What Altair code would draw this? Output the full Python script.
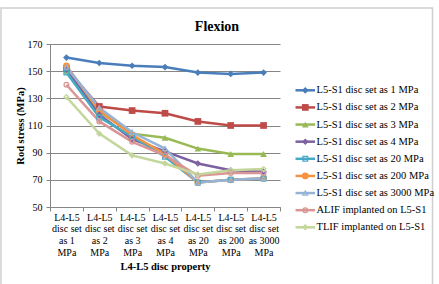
import altair as alt
import pandas as pd

# L4-L5 disc property (x categories)
categories = [
    "L4-L5 disc set as 1 MPa",
    "L4-L5 disc set as 2 MPa",
    "L4-L5 disc set as 3 MPa",
    "L4-L5 disc set as 4 MPa",
    "L4-L5 disc set as 20 MPa",
    "L4-L5 disc set as 200 MPa",
    "L4-L5 disc set as 3000 MPa",
]

series_names = [
    "L5-S1 disc set as 1 MPa",
    "L5-S1 disc set as 2 MPa",
    "L5-S1 disc set as 3 MPa",
    "L5-S1 disc set as 4 MPa",
    "L5-S1 disc set as 20 MPa",
    "L5-S1 disc set as 200 MPa",
    "L5-S1 disc set as 3000 MPa",
    "ALIF implanted on L5-S1",
    "TLIF implanted on L5-S1",
]

# Rod stress (MPa) for each series across the categories
s_1 = [160, 156, 154, 153, 149, 148, 149]
s_2 = [152, 124, 121, 119, 113, 110, 110]
s_3 = [150, 120, 104, 101, 93, 89, 89]
s_4 = [151, 118, 100, 91, 82, 77, 76]
s_20 = [149, 116, 102, 87, 68, 70, 71]
s_200 = [154, 121, 103, 89, 68, 70, 71]
s_3000 = [153, 123, 105, 93, 68, 70, 71]
s_alif = [140, 113, 98, 88, 73, 75, 75]
s_tlif = [131, 104, 88, 82, 74, 77, 78]

all_values = [s_1, s_2, s_3, s_4, s_20, s_200, s_3000, s_alif, s_tlif]

colors = ["#4A7EBB", "#BE4B48", "#98B954", "#7D60A0", "#46AAC5",
          "#F69240", "#95B3D7", "#D99694", "#C3D69B"]

# marker paths (unit coordinates)
filled_shapes = {
    "L5-S1 disc set as 1 MPa": "diamond",
    "L5-S1 disc set as 2 MPa": "square",
    "L5-S1 disc set as 3 MPa": "triangle-up",
    "L5-S1 disc set as 200 MPa": "circle",
}
stroked_shapes = {
    "L5-S1 disc set as 4 MPa": "M-1,-1L1,1M-1,1L1,-1",
    "L5-S1 disc set as 20 MPa": "M-1,-1L1,1M-1,1L1,-1M0,-1.2L0,1.2",
    "L5-S1 disc set as 3000 MPa": "M-1,0L1,0M0,-1.2L0,1.2",
    "ALIF implanted on L5-S1": "M-0.8,0L0.8,0",
    "TLIF implanted on L5-S1": "M-1.3,0L1.3,0",
}

rows = []
for si, (name, vals) in enumerate(zip(series_names, all_values)):
    for cat, v in zip(categories, vals):
        rows.append({"series": name, "order": si, "category": cat, "stress": v})
df = pd.DataFrame(rows)

leg_df = pd.DataFrame({"series": series_names, "order": list(range(len(series_names)))})

FONT = "Liberation Serif, Times New Roman, serif"
W, H = 230, 163
PAD_L, PAD_T = 50, 44

color_scale = alt.Scale(domain=series_names, range=colors)

x_enc = alt.X(
    "category:N",
    sort=categories,
    bandPosition=0.5,
    scale=alt.Scale(type="band", domain=categories, paddingInner=0, paddingOuter=0),
    axis=alt.Axis(
        title="L4-L5 disc property",
        labelExpr="datum.label ? ['L4-L5', 'disc set', 'as ' + split(datum.label, ' ')[4], 'MPa'] : ''",
        labelAngle=0,
        labelLineHeight=11.8,
        labelFontSize=10,
        labelFont=FONT,
        labelColor="#000000",
        labelPadding=1,
        tickBand="extent",
        tickSize=4,
        tickColor="#868686",
        domainColor="#868686",
        titleFont=FONT,
        titleFontSize=10.5,
        titleFontWeight="bold",
        titleColor="#000000",
        titleY=59,
        titleBaseline="middle",
    ),
)
y_enc = alt.Y(
    "stress:Q",
    scale=alt.Scale(domain=[50, 170], nice=False, zero=False),
    axis=alt.Axis(
        title="Rod stress (MPa)",
        values=[50, 70, 90, 110, 130, 150, 170],
        labelFont=FONT,
        labelFontSize=10,
        labelColor="#000000",
        labelPadding=4,
        tickSize=4,
        tickColor="#868686",
        domainColor="#868686",
        gridColor="#868686",
        gridWidth=1,
        titleFont=FONT,
        titleFontSize=10.5,
        titleFontWeight="bold",
        titleColor="#000000",
        titleX=-30,
        titleBaseline="middle",
    ),
)

lines = alt.Chart(df).mark_line(strokeWidth=2.5).encode(
    x=x_enc,
    y=y_enc,
    color=alt.Color("series:N", scale=color_scale, legend=None),
    detail="series:N",
    order="order:Q",
)

pts_filled = alt.Chart(df).transform_filter(
    alt.FieldOneOfPredicate(field="series", oneOf=list(filled_shapes))
).mark_point(filled=True, size=45, opacity=1).encode(
    x=x_enc,
    y=y_enc,
    color=alt.Color("series:N", scale=color_scale, legend=None),
    shape=alt.Shape("series:N", scale=alt.Scale(domain=list(filled_shapes),
                                                 range=list(filled_shapes.values())), legend=None),
)

pts_stroked = alt.Chart(df).transform_filter(
    alt.FieldOneOfPredicate(field="series", oneOf=list(stroked_shapes))
).mark_point(filled=False, size=22, strokeWidth=1.3, opacity=1).encode(
    x=x_enc,
    y=y_enc,
    color=alt.Color("series:N", scale=color_scale, legend=None),
    shape=alt.Shape("series:N", scale=alt.Scale(domain=list(stroked_shapes),
                                                 range=list(stroked_shapes.values())), legend=None),
)

main = alt.layer(lines, pts_filled, pts_stroked)

# legend drawn beside the plot
leg_y = alt.Y("order:Q", scale=alt.Scale(domain=[0, 8], range=[46.3, 183.3]), axis=None)
leg_color = alt.Color("series:N", scale=color_scale, legend=None)

leg_line = alt.Chart(leg_df).mark_rule(strokeWidth=2.5).encode(
    x=alt.value(245.5), x2=alt.value(265), y=leg_y, color=leg_color
)
leg_pf = alt.Chart(leg_df).transform_filter(
    alt.FieldOneOfPredicate(field="series", oneOf=list(filled_shapes))
).mark_point(filled=True, size=45, opacity=1).encode(
    x=alt.value(255.3), y=leg_y, color=leg_color,
    shape=alt.Shape("series:N", scale=alt.Scale(domain=list(filled_shapes),
                                                 range=list(filled_shapes.values())), legend=None),
)
leg_ps = alt.Chart(leg_df).transform_filter(
    alt.FieldOneOfPredicate(field="series", oneOf=list(stroked_shapes))
).mark_point(filled=False, size=22, strokeWidth=1.3, opacity=1).encode(
    x=alt.value(255.3), y=leg_y, color=leg_color,
    shape=alt.Shape("series:N", scale=alt.Scale(domain=list(stroked_shapes),
                                                 range=list(stroked_shapes.values())), legend=None),
)
leg_text = alt.Chart(leg_df).mark_text(
    align="left", baseline="middle", font=FONT, fontSize=10.5, color="#000000", dx=0
).encode(x=alt.value(266.5), y=leg_y, text="series:N")

legend = alt.layer(leg_line, leg_pf, leg_ps, leg_text)

# outer chart frame
frame = alt.Chart(alt.Data(values=[{"f": 1}])).mark_rect(
    fill=None, stroke="#CFCFCF", strokeWidth=1.5
).encode(
    x=alt.value(1 - PAD_L), x2=alt.value(432.5 - PAD_L),
    y=alt.value(8 - PAD_T), y2=alt.value(300 - PAD_T),
)

chart = alt.layer(frame, main, legend).resolve_scale(
    x="independent", y="independent", color="independent", shape="independent"
).properties(
    width=W,
    height=H,
    padding={"left": PAD_L, "top": PAD_T, "right": 439 - PAD_L - W, "bottom": 284 - PAD_T - H},
    autosize=alt.AutoSizeParams(type="none"),
    title=alt.TitleParams(
        "Flexion", font=FONT, fontSize=14, fontWeight="bold", color="#000000",
        anchor="middle", frame="group", dx=52, offset=8, dy=35,
    ),
    background="white",
).configure_view(stroke=None)

chart.save("out.html", embed_options={"renderer": "svg", "actions": False})
